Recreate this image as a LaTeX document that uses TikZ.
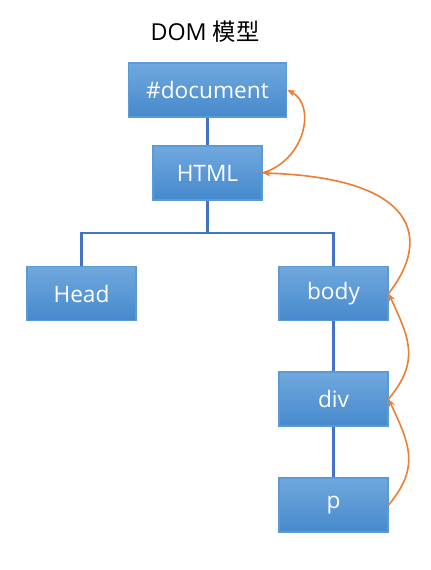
\documentclass[tikz,border=0pt]{standalone}
\usepackage{fontspec}
\setmainfont{Open Sans}
\newfontfamily\cjkfont{Noto Sans CJK SC}
\usetikzlibrary{arrows.meta}
\definecolor{treeblue}{RGB}{68,114,196}
\definecolor{boxtop}{RGB}{112,168,222}
\definecolor{boxbot}{RGB}{70,137,204}
\definecolor{boxline}{RGB}{91,155,213}
\definecolor{linkorange}{RGB}{237,125,49}
\tikzset{
  domnode/.style={draw=boxline, line width=0.8pt, top color=boxtop, bottom color=boxbot,
    text=white, font=\fontsize{17}{19}\selectfont, minimum height=40.5pt, inner sep=0pt},
  tree/.style={draw=treeblue, line width=1.6pt},
  parent/.style={-{Stealth[length=6pt,width=5pt]}, draw=linkorange, line width=1.2pt},
}
\begin{document}
\begin{tikzpicture}[x=0.75pt, y=-0.75pt]
  \useasboundingbox (0,0) rectangle (431,570);
  % title
  \node (title) at (205,32) {\fontsize{17.5}{19}\selectfont DOM \cjkfont 模型};
  % nodes
  \node[domnode, minimum width=119pt] (doc) at (207.5,90) {\#document};
  \node[domnode, minimum width=81.75pt] (html) at (207.5,173) {HTML};
  \node[domnode, minimum width=81.75pt] (head) at (81.5,293.5) {Head};
  \node[domnode, minimum width=81.75pt] (body) at (333.5,293.5) {body};
  \node[domnode, minimum width=81.75pt] (div) at (333.5,399) {div};
  \node[domnode, minimum width=81.75pt] (p) at (333.5,505) {p};
  % tree
  \coordinate (fork) at (207.5,233);
  \draw[tree] (doc) -- (html);
  \draw[tree] (html) -- (fork);
  \draw[tree] (fork) -| (head);
  \draw[tree] (fork) -| (body);
  \draw[tree] (body) -- (div);
  \draw[tree] (div) -- (p);
  % parent links
  \draw[parent] (html.east) .. controls +(43,-13) and +(29,15) .. (doc.east);
  \draw[parent] (body.east) .. controls +(42,-53) and +(158,5) .. (html.east);
  \draw[parent] (div.east) to[out=50, in=-65, looseness=1.2] (body.east);
  \draw[parent] (p.east) to[out=50, in=-65, looseness=1.2] (div.east);
\end{tikzpicture}
\end{document}
